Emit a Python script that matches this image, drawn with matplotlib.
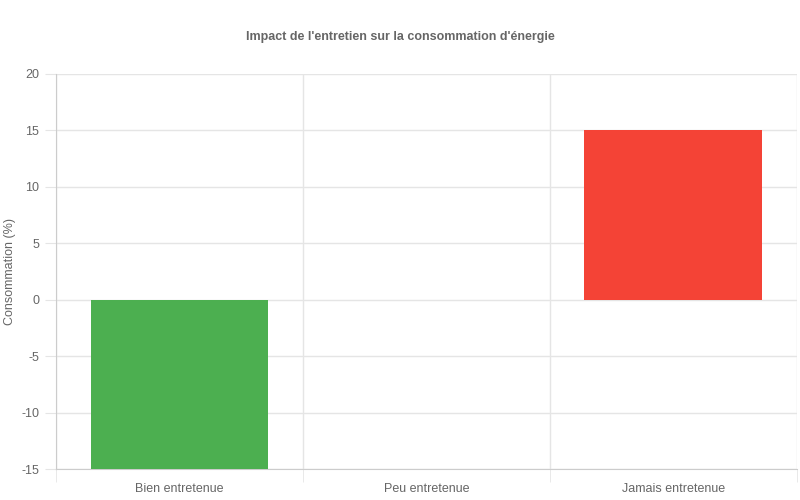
import matplotlib
matplotlib.use("Agg")
import matplotlib.pyplot as plt

categories = ["Bien entretenue", "Peu entretenue", "Jamais entretenue"]
values = [-15, 0, 15]
colors = ["#4CAF50", "#FFC107", "#F44336"]
yticks = [-15, -10, -5, 0, 5, 10, 15, 20]

plt.rcParams['font.family'] = ['Liberation Sans', 'DejaVu Sans']
fig = plt.figure(figsize=(8, 5), dpi=100)
ax = fig.add_axes([0.07, 0.062, 0.926, 0.79])
x = range(len(categories))
ax.bar(x, values, width=0.72, color=colors, zorder=3)
ax.set_xlim(-0.5, 2.5)
ax.set_ylim(-15, 20)
ax.set_yticks(yticks)
ax.set_yticklabels([str(t) for t in yticks])
ax.set_xticks(x)
ax.set_xticklabels(categories)
ax.set_xticks([-0.5, 0.5, 1.5, 2.5], minor=True)
ax.grid(True, which='minor', axis='x', color='#e5e5e5', lw=1)
ax.grid(True, which='major', axis='y', color='#e5e5e5', lw=1)
ax.tick_params(axis='x', which='major', length=0, pad=10, labelsize=9, colors='#666666')
ax.tick_params(axis='x', which='minor', length=9, color='#e5e5e5')
ax.tick_params(axis='y', length=8, color='#e5e5e5', labelsize=9, labelcolor='#666666', pad=4)
for s in ['top', 'right']:
    ax.spines[s].set_visible(False)
for s in ['left', 'bottom']:
    ax.spines[s].set_color('#cccccc')
ax.set_ylabel("Consommation (%)", color='#666666', fontsize=9)
fig.text(0.5, 0.926, "Impact de l'entretien sur la consommation d'énergie",
         ha='center', va='center', fontsize=9, fontweight='bold', color='#666666')
fig.savefig("out.png", dpi=100)
